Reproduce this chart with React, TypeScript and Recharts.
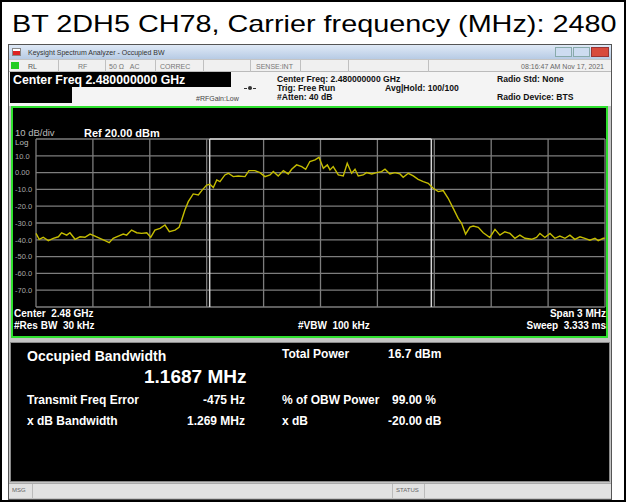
import { LineChart, Line, XAxis, YAxis, CartesianGrid, ReferenceLine } from 'recharts';

const CENTER_MHZ = 2480;
const SPAN_MHZ = 3;

// trace, offset from centre (MHz) and level (dBm)
const freqOffsetMHz = [
  -1.5, -1.483, -1.462, -1.435, -1.409, -1.382, -1.365, -1.338, -1.321, -1.294,
  -1.268, -1.242, -1.215, -1.189, -1.163, -1.136, -1.114, -1.093, -1.066, -1.04,
  -1.022, -0.996, -0.969, -0.943, -0.916, -0.895, -0.873, -0.846, -0.82, -0.797,
  -0.767, -0.746, -0.732, -0.715, -0.697, -0.671, -0.644, -0.623, -0.6, -0.583,
  -0.565, -0.547, -0.53, -0.504, -0.486, -0.46, -0.434, -0.398, -0.377, -0.346,
  -0.319, -0.293, -0.266, -0.249, -0.223, -0.196, -0.17, -0.152, -0.126, -0.099,
  -0.078, -0.056, -0.029, -0.008, 0.015, 0.036, 0.05, 0.067, 0.094, 0.12,
  0.141, 0.164, 0.182, 0.199, 0.225, 0.243, 0.27, 0.296, 0.322, 0.34,
  0.366, 0.392, 0.419, 0.436, 0.463, 0.489, 0.515, 0.542, 0.568, 0.594,
  0.621, 0.647, 0.673, 0.7, 0.726, 0.744, 0.765, 0.788, 0.805, 0.832,
  0.858, 0.893, 0.92, 0.946, 0.972, 0.999, 1.025, 1.051, 1.078, 1.113,
  1.139, 1.157, 1.183, 1.21, 1.236, 1.262, 1.289, 1.315, 1.341, 1.368,
  1.394, 1.42, 1.447, 1.464, 1.491, 1.5,
];
const levelDbm = [
  -36.2, -39.7, -38.5, -40.5, -39.1, -38.2, -35.8, -37.2, -35.8, -39.7,
  -38.2, -38.5, -36.6, -37.8, -39.1, -40.5, -41.7, -39.1, -37.8, -36.6,
  -37.2, -34.2, -35.8, -36.2, -35.8, -38.5, -34.2, -33.2, -31.2, -35.2,
  -34.2, -32.6, -28.2, -22.3, -17.3, -12.7, -13.3, -10.3, -7.4, -7.0,
  -8.9, -4.4, -5.4, -1.4, -0.4, -2.4, -2.0, -2.4, 1.2, 1.2,
  0.0, -2.4, -1.4, 0.6, -2.0, 1.2, -0.8, 2.0, 4.6, 3.6,
  2.0, 6.6, 7.6, 9.1, 2.6, 4.6, 1.6, 3.6, -1.4, -2.0,
  5.6, -0.4, 2.0, -2.0, -1.4, 0.0, -0.8, 0.0, 0.6, 2.0,
  -0.8, 0.0, -0.8, -2.8, -0.4, -2.0, -4.0, -5.4, -6.4, -9.3,
  -11.3, -10.7, -15.3, -21.3, -27.2, -30.2, -36.6, -32.4, -31.8, -32.6,
  -35.8, -38.6, -33.8, -37.2, -35.2, -36.2, -39.1, -37.2, -39.1, -39.7,
  -38.6, -36.2, -38.6, -36.2, -39.1, -37.8, -39.1, -37.2, -39.7, -38.2,
  -39.1, -40.2, -39.1, -40.5, -39.1, -39.0,
];

const yTicks = [20, 10, 0, -10, -20, -30, -40, -50, -60, -70, -80];
const yTickLabels = ['', '10.0', '0.00', '-10.0', '-20.0', '-30.0', '-40.0', '-50.0', '-60.0', '-70.0', ''];
const xDivOffsets = [-1.5, -1.2, -0.9, -0.6, -0.3, 0, 0.3, 0.6, 0.9, 1.2, 1.5];
const OBW_MHZ = 1.1687;

const FONT = '"Liberation Sans", Arial, sans-serif';

const data = freqOffsetMHz.map((off, i) => ({ f: CENTER_MHZ + off, dbm: levelDbm[i] }));
const xGrid = xDivOffsets.map((o) => CENTER_MHZ + o);
const obwLo = CENTER_MHZ - OBW_MHZ / 2;
const obwHi = CENTER_MHZ + OBW_MHZ / 2;

type TxtProps = {
  x: number;
  y: number;
  size: number;
  color?: string;
  bold?: boolean;
  right?: boolean;
  children: string;
};

// text placed by its vertical centre
const Txt = ({ x, y, size, color = '#fff', bold = false, right = false, children }: TxtProps) => (
  <div
    style={{
      position: 'absolute',
      top: y - size / 2,
      left: right ? undefined : x,
      right: right ? 637 - x : undefined,
      fontSize: size,
      lineHeight: `${size}px`,
      fontWeight: bold ? 'bold' : 'normal',
      color,
      fontFamily: FONT,
      whiteSpace: 'pre',
    }}
  >
    {children}
  </div>
);

const Box = ({ x, y, w, h, style }: { x: number; y: number; w: number; h: number; style?: React.CSSProperties }) => (
  <div style={{ position: 'absolute', left: x, top: y, width: w, height: h, boxSizing: 'border-box', ...style }} />
);

const YTick = ({ y, index }: any) => (
  <text x={15} y={y} dy={2.7} fontSize={7.5} fill="#a9a9a9" fontFamily={FONT}>
    {yTickLabels[index]}
  </text>
);

const statusSeps = [58, 105, 155, 203, 250, 300, 348, 428];

export default function App() {
  return (
    <div style={{ position: 'absolute', left: 0, top: 0, width: 637, height: 503, background: '#fff', overflow: 'hidden' }}>
      {/* outer frame + title */}
      <Box x={0} y={0} w={626} h={502} style={{ border: '2px solid #000' }} />
      <div
        style={{
          position: 'absolute',
          left: 12,
          top: 12,
          fontSize: 24,
          lineHeight: '24px',
          fontFamily: FONT,
          color: '#000',
          whiteSpace: 'nowrap',
          transform: 'scaleX(1.2)',
          transformOrigin: 'left top',
        }}
      >
        BT 2DH5 CH78, Carrier frequency (MHz): 2480
      </div>

      {/* analyzer window */}
      <Box x={8} y={44} w={604} h={456} style={{ background: '#c4c4c4', border: '1px solid #555' }} />
      <Box x={9} y={45} w={602} h={14} style={{ background: 'linear-gradient(#dfe9f6, #b7cbe4)' }} />
      <Box x={12} y={48} w={9} h={8} style={{ background: 'linear-gradient(#fff 40%, #d22 40%)', border: '1px solid #888' }} />
      <Txt x={28} y={52} size={7} color="#333">Keysight Spectrum Analyzer - Occupied BW</Txt>
      <Box x={555} y={47} w={17} h={10} style={{ background: '#cddcf0', border: '1px solid #8aa' }} />
      <Box x={573} y={47} w={17} h={10} style={{ background: '#cddcf0', border: '1px solid #8aa' }} />
      <Box x={591} y={47} w={18} h={10} style={{ background: '#d84a3c', border: '1px solid #933' }} />

      <Box x={9} y={60} w={602} h={12} style={{ background: '#f0f0f0', borderBottom: '1px solid #bbb' }} />
      {statusSeps.map((sx) => (
        <Box key={sx} x={sx} y={60} w={1} h={12} style={{ background: '#c0c0c0' }} />
      ))}
      <Box x={11} y={62} w={8} h={7} style={{ background: '#2c2' }} />
      <Txt x={28} y={66} size={7} color="#555">RL</Txt>
      <Txt x={78} y={66} size={7} color="#777">RF</Txt>
      <Txt x={109} y={66} size={7} color="#777">50 Ω   AC</Txt>
      <Txt x={160} y={66} size={7} color="#777">CORREC</Txt>
      <Txt x={256} y={66} size={7} color="#777">SENSE:INT</Txt>
      <Txt x={604} y={66} size={7} color="#666" right>08:16:47 AM Nov 17, 2021</Txt>

      <Box x={9} y={72} w={602} h={34} style={{ background: '#f4f4f4' }} />
      <Box x={10} y={72} w={221} h={15} style={{ background: '#000' }} />
      <Box x={10} y={87} w={62} h={16} style={{ background: '#000' }} />
      <Txt x={13} y={80} size={12.3} bold>Center Freq 2.480000000 GHz</Txt>
      <Txt x={196} y={98} size={7} color="#444">#RFGain:Low</Txt>
      <Box x={244} y={88} w={12} h={1} style={{ borderTop: '1px dashed #333' }} />
      <Box x={248} y={86} w={4} h={4} style={{ background: '#333', borderRadius: 2 }} />
      <Txt x={277} y={79} size={8.6} bold color="#111">Center Freq: 2.480000000 GHz</Txt>
      <Txt x={277} y={88} size={8.6} bold color="#111">Trig: Free Run</Txt>
      <Txt x={277} y={97} size={8.6} bold color="#111">#Atten: 40 dB</Txt>
      <Txt x={385} y={88} size={8.6} bold color="#111">Avg|Hold: 100/100</Txt>
      <Txt x={497} y={79} size={8.6} bold color="#111">Radio Std: None</Txt>
      <Txt x={497} y={97} size={8.6} bold color="#111">Radio Device: BTS</Txt>

      {/* graph panel */}
      <Box x={11} y={106} w={597} h={232} style={{ background: '#000', border: '2px solid #2ee02e' }} />
      <Txt x={15} y={133} size={9.5} color="#bbb">10 dB/div</Txt>
      <Txt x={84} y={133} size={11} bold>Ref 20.00 dBm</Txt>
      <Txt x={15} y={143} size={8} color="#bbb">Log</Txt>
      <Txt x={14} y={314} size={10} bold>Center  2.48 GHz</Txt>
      <Txt x={14} y={326} size={10} bold>#Res BW  30 kHz</Txt>
      <Txt x={298} y={326} size={10} bold>#VBW  100 kHz</Txt>
      <Txt x={606} y={314} size={10} bold right>Span 3 MHz</Txt>
      <Txt x={606} y={326} size={10} bold right>Sweep  3.333 ms</Txt>

      {/* results panel */}
      <Box x={10} y={342} w={600} h={140} style={{ background: '#000', border: '1px solid #8a8a8a' }} />
      <Txt x={27} y={356} size={14} bold>Occupied Bandwidth</Txt>
      <Txt x={144} y={376} size={19} bold>1.1687 MHz</Txt>
      <Txt x={282} y={354} size={12} bold>Total Power</Txt>
      <Txt x={388} y={354} size={12} bold>16.7 dBm</Txt>
      <Txt x={27} y={400} size={12} bold>Transmit Freq Error</Txt>
      <Txt x={245} y={400} size={12} bold right>-475 Hz</Txt>
      <Txt x={282} y={400} size={12} bold>% of OBW Power</Txt>
      <Txt x={392} y={400} size={12} bold>99.00 %</Txt>
      <Txt x={27} y={421} size={12} bold>x dB Bandwidth</Txt>
      <Txt x={245} y={421} size={12} bold right>1.269 MHz</Txt>
      <Txt x={282} y={421} size={12} bold>x dB</Txt>
      <Txt x={388} y={421} size={12} bold>-20.00 dB</Txt>

      <Box x={9} y={483} w={602} h={15} style={{ background: '#e2e2e2', borderTop: '1px solid #aaa' }} />
      <Box x={32} y={484} w={1} h={14} style={{ background: '#bbb' }} />
      <Box x={392} y={484} w={1} h={14} style={{ background: '#bbb' }} />
      <Box x={424} y={484} w={1} h={14} style={{ background: '#bbb' }} />
      <Txt x={12} y={490} size={6} color="#666">MSG</Txt>
      <Txt x={396} y={490} size={6} color="#666">STATUS</Txt>

      {/* trace */}
      <div style={{ position: 'absolute', left: 0, top: 0 }}>
        <LineChart width={637} height={503} data={data} margin={{ top: 139, right: 32, bottom: 196, left: 14 }}>
          <CartesianGrid stroke="#7d7d7d" strokeWidth={1.3} horizontalValues={yTicks} verticalValues={xGrid} />
          <XAxis
            dataKey="f"
            type="number"
            domain={[CENTER_MHZ - SPAN_MHZ / 2, CENTER_MHZ + SPAN_MHZ / 2]}
            ticks={xGrid}
            hide
          />
          <YAxis
            type="number"
            domain={[-80, 20]}
            ticks={yTicks}
            width={22}
            axisLine={false}
            tickLine={false}
            tick={<YTick />}
            interval={0}
          />
          <ReferenceLine x={obwLo} stroke="#d6d6d6" strokeWidth={1.5} />
          <ReferenceLine x={obwHi} stroke="#d6d6d6" strokeWidth={1.5} />
          <ReferenceLine
            segment={[
              { x: obwLo, y: 20 },
              { x: obwHi, y: 20 },
            ]}
            stroke="#d6d6d6"
            strokeWidth={1.5}
          />
          <Line
            type="linear"
            dataKey="dbm"
            stroke="#c4bc00"
            strokeWidth={1.4}
            dot={false}
            isAnimationActive={false}
          />
        </LineChart>
      </div>
    </div>
  );
}
